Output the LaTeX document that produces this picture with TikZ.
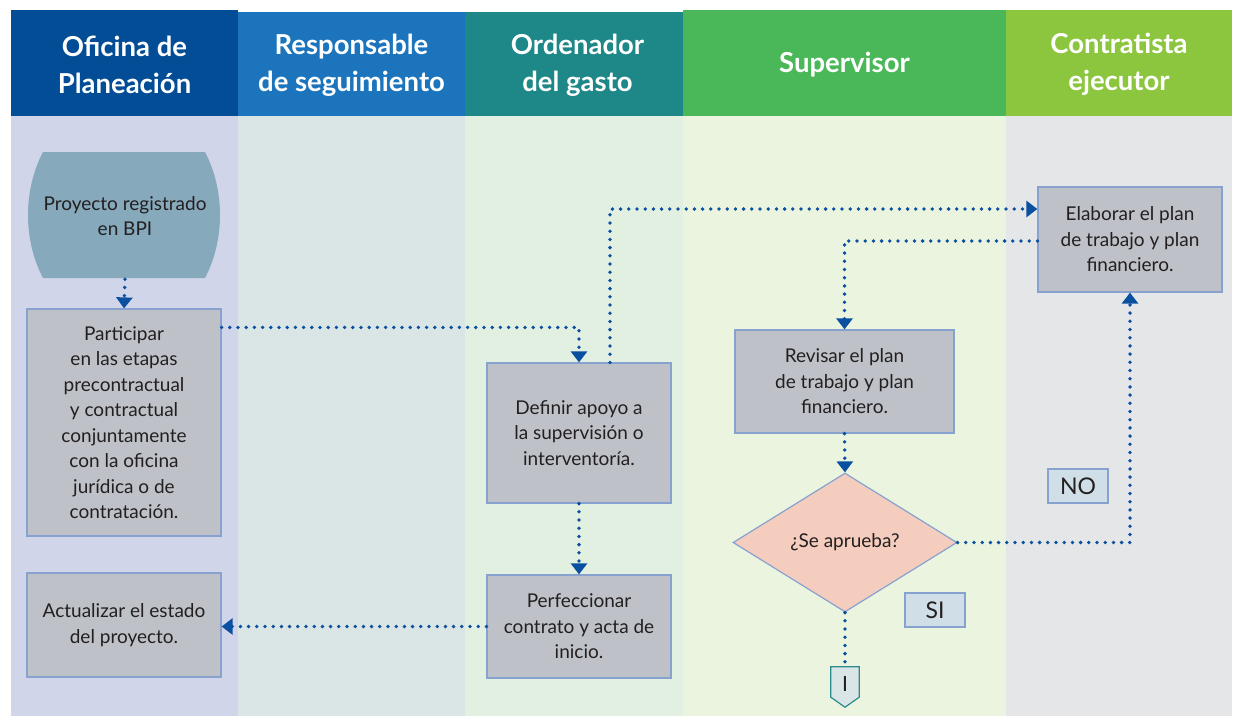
\documentclass[tikz,border=0pt]{standalone}
\usepackage{fontspec}
\setmainfont{Lato}
\usetikzlibrary{arrows.meta,shapes.geometric,calc}
\definecolor{hA}{HTML}{034D97}
\definecolor{hB}{HTML}{1C75BC}
\definecolor{hC}{HTML}{1E8787}
\definecolor{hD}{HTML}{4AB858}
\definecolor{hE}{HTML}{8CC63F}
\definecolor{lA}{HTML}{D0D5EA}
\definecolor{lB}{HTML}{DAE6E6}
\definecolor{lC}{HTML}{E2F0E1}
\definecolor{lD}{HTML}{EAF4DF}
\definecolor{lE}{HTML}{E5E6E8}
\definecolor{boxc}{HTML}{BEC2C8}
\definecolor{bordc}{HTML}{87A2CE}
\definecolor{bpic}{HTML}{87A9BC}
\definecolor{decc}{HTML}{F4CDBE}
\definecolor{labc}{HTML}{D0DFE7}
\definecolor{connf}{HTML}{DAE5E6}
\definecolor{connb}{HTML}{2C8B8C}
\definecolor{flowc}{HTML}{0A50A0}
\definecolor{txt}{HTML}{231F20}
\tikzset{
  hdr/.style={text=white, align=center, inner sep=0pt,
    font=\bfseries\fontsize{27.5}{37}\selectfont},
  bodytext/.style={text=txt, align=center, inner sep=0pt,
    font=\fontsize{19}{25.5}\selectfont},
  procbox/.style={bodytext, draw=bordc, fill=boxc, line width=1.2pt},
  labbox/.style={bodytext, draw=bordc, fill=labc, line width=1.2pt,
    minimum width=60pt, minimum height=34pt, font=\fontsize{23}{26}\selectfont},
  flow/.style={draw=flowc, line width=3.8pt, line cap=round,
    dash pattern=on 0pt off 8.2pt},
  flowarrow/.style={flow, -{Triangle[width=16pt,length=11pt,fill=flowc,color=flowc]}}
}
\begin{document}
\begin{tikzpicture}[x=1pt,y=-1pt]
\useasboundingbox (0,0) rectangle (1240,716);
\fill[white] (0,0) rectangle (1240,716);
% lane bodies
\fill[lA] (11,116) rectangle (238,716);
\fill[lB] (238,116) rectangle (465,716);
\fill[lC] (465,116) rectangle (683,716);
\fill[lD] (683,116) rectangle (1006,716);
\fill[lE] (1006,116) rectangle (1232,716);
% header bands
\fill[hA] (11,10) rectangle (238,116);
\fill[hB] (238,12) rectangle (465,116);
\fill[hC] (465,12) rectangle (690,116);
\fill[hD] (683,10) rectangle (1006,116);
\fill[hE] (1006,10) rectangle (1232,116);
% header texts
\node[hdr] (hdrA) at (124.5,65) {Oficina de\\Planeación};
\node[hdr] (hdrB) at (351.5,65) {Responsable\\de seguimiento};
\node[hdr] (hdrC) at (577.5,65) {Ordenador\\del gasto};
\node[hdr] (hdrD) at (844.5,65) {Supervisor};
\node[hdr] (hdrE) at (1119,64) {Contratista\\ejecutor};
% start shape
\fill[bpic] (43,152) -- (205,152) .. controls (225,190) and (225,240) .. (205,278)
  -- (43,278) .. controls (23,240) and (23,190) .. (43,152) -- cycle;
\node[bodytext, minimum width=190pt, minimum height=126pt] (bpi) at (125,216) {Proyecto registrado\\en BPI};
% process boxes
\node[procbox, minimum width=194pt, minimum height=227pt] (part) at (124,422.5)
  {Participar\\en las etapas\\precontractual\\y contractual\\conjuntamente\\con la oficina\\jurídica o de\\contratación.};
\node[procbox, minimum width=194pt, minimum height=104pt] (act) at (124,625)
  {Actualizar el estado\\del proyecto.};
\node[procbox, minimum width=184pt, minimum height=140pt] (def) at (579,433)
  {Definir apoyo a\\la supervisión o\\interventoría.};
\node[procbox, minimum width=184pt, minimum height=103pt] (perf) at (579,626.5)
  {Perfeccionar\\contrato y acta de\\inicio.};
\node[procbox, minimum width=219pt, minimum height=103pt] (rev) at (844.5,381.5)
  {Revisar el plan\\de trabajo y plan\\financiero.};
\node[procbox, minimum width=184pt, minimum height=105pt] (elab) at (1130,239.5)
  {Elaborar el plan\\de trabajo y plan\\financiero.};
% decision
\node[bodytext, shape=diamond, aspect=1.6, draw=bordc, fill=decc, line width=1.2pt,
  minimum width=224pt, minimum height=139pt] (dec) at (845,542.5) {¿Se aprueba?};
% labels
\node[labbox] (no) at (1078,486) {NO};
\node[labbox] (si) at (935,610) {SI};
% off-page connector
\node[bodytext, minimum width=28pt, minimum height=40pt] (conn) at (845,687) {};
\filldraw[fill=connf, draw=connb, line width=1.2pt]
  (conn.north west) -- (conn.north east) -- ($(conn.south east)+(0,-10)$)
  -- (conn.south) -- ($(conn.south west)+(0,-10)$) -- cycle;
\node[bodytext, font=\fontsize{21}{24}\selectfont] (connlab) at ($(conn.center)+(0,-3)$) {I};
% connectors
\draw[flowarrow] (bpi.south) -- (part.north);
\draw[flowarrow] ($(part.north east)+(0,19)$) -| (def.north);
\draw[flowarrow] ($(def.north)+(31,0)$) |- ($(elab.west)+(0,-30.5)$);
\draw[flowarrow] ($(elab.west)+(0,1.5)$) -| (rev.north);
\draw[flowarrow] (rev.south) -- (dec.north);
\draw[flowarrow] (dec.east) -| (elab.south);
\draw[flow] (dec.south) -- (conn.north);
\draw[flowarrow] (def.south) -- (perf.north);
\draw[flowarrow] (perf.west) -- (perf.west -| act.east);
\end{tikzpicture}
\end{document}
